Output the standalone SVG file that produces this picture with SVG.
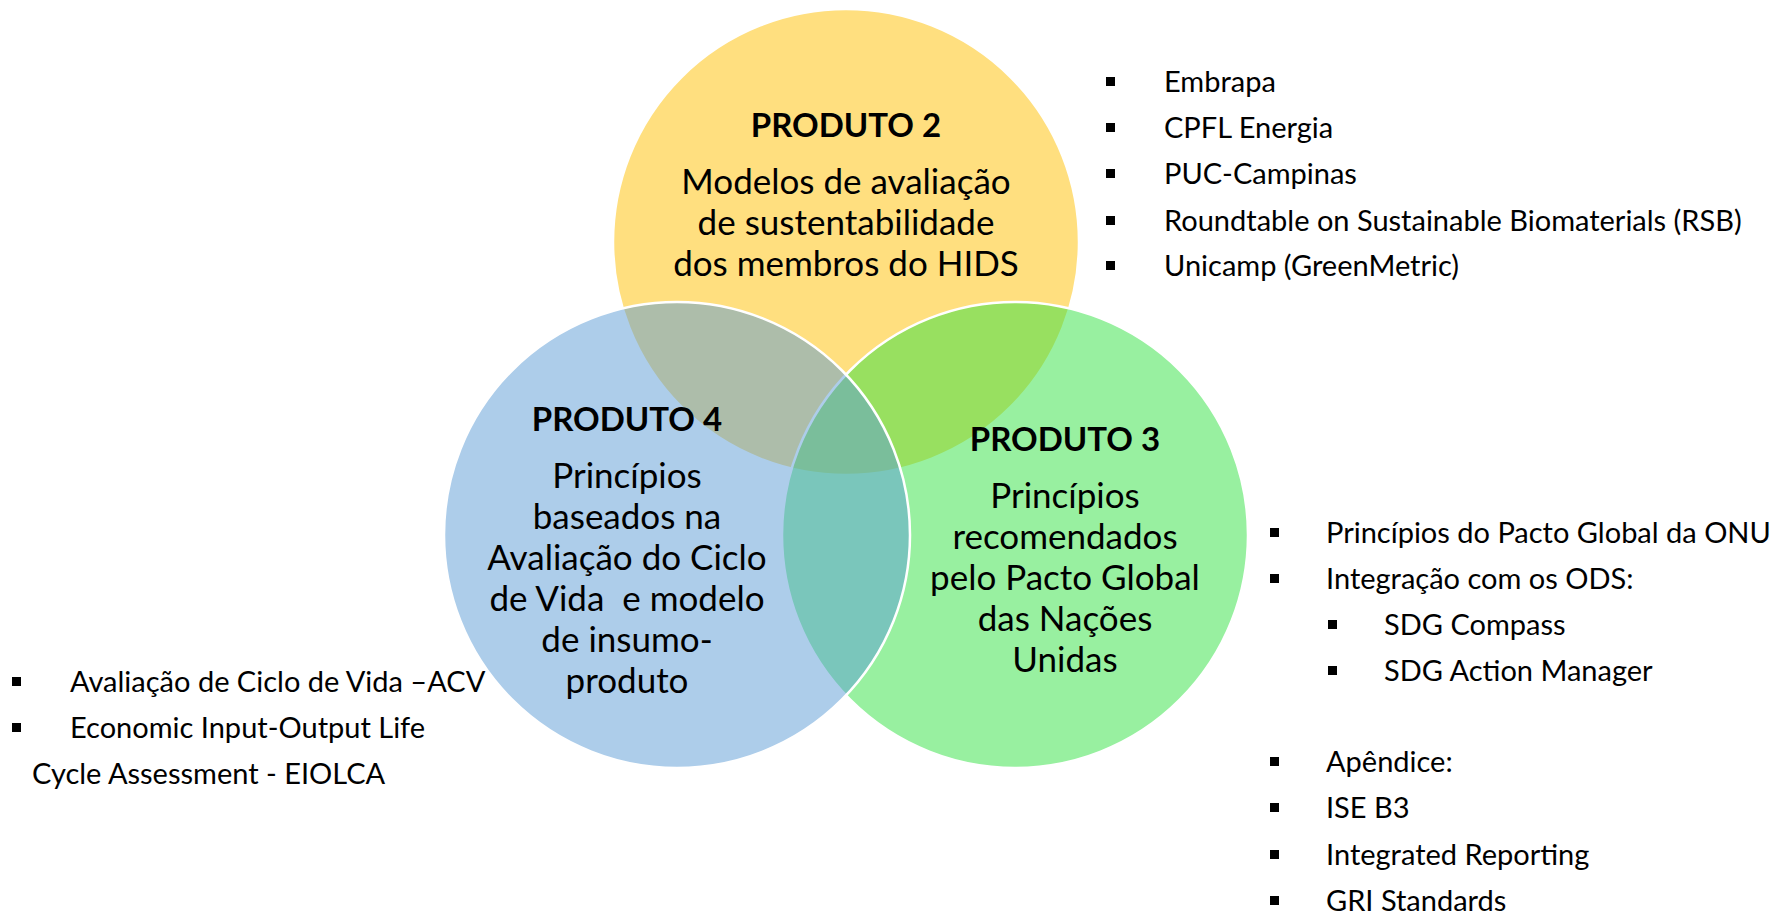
<svg xmlns="http://www.w3.org/2000/svg" width="1791" height="916" viewBox="0 0 1791 916">
<style>
.c{stroke:#fff;stroke-width:2.5;fill-opacity:.5}
.t{font-family:Lato,"Liberation Sans",sans-serif;font-size:35px;fill:#000;text-anchor:middle}
.h{font-family:Lato,"Liberation Sans",sans-serif;font-size:33px;font-weight:bold;fill:#000;text-anchor:middle}
.l{font-family:Lato,"Liberation Sans",sans-serif;font-size:29px;fill:#000}
.b{fill:#000}
</style>
<rect width="1791" height="916" fill="#fff"/>
<g id="produto2">
<circle class="c" cx="846" cy="242" r="233" fill="#FFC000"/>
<text class="h" x="846" y="137">PRODUTO 2</text>
<text class="t" x="846" y="194">Modelos de avaliação</text>
<text class="t" x="846" y="235">de sustentabilidade</text>
<text class="t" x="846" y="276">dos membros do HIDS</text>
</g>
<g id="produto3">
<circle class="c" cx="1015" cy="535" r="233" fill="#31E141"/>
<text class="h" x="1065" y="451">PRODUTO 3</text>
<text class="t" x="1065" y="508">Princípios</text>
<text class="t" x="1065" y="549">recomendados</text>
<text class="t" x="1065" y="590">pelo Pacto Global</text>
<text class="t" x="1065" y="631">das Nações</text>
<text class="t" x="1065" y="672">Unidas</text>
</g>
<g id="produto4">
<circle class="c" cx="677" cy="535" r="233" fill="#5B9BD5"/>
<text class="h" x="627" y="431">PRODUTO 4</text>
<text class="t" x="627" y="488">Princípios</text>
<text class="t" x="627" y="529">baseados na</text>
<text class="t" x="627" y="570">Avaliação do Ciclo</text>
<text class="t" x="627" y="611" xml:space="preserve">de Vida  e modelo</text>
<text class="t" x="627" y="652">de insumo-</text>
<text class="t" x="627" y="693">produto</text>
</g>
<g id="list-produto2">
<rect class="b" x="1106" y="77" width="9" height="9"/>
<text class="l" x="1164" y="92">Embrapa</text>
<rect class="b" x="1106" y="123" width="9" height="9"/>
<text class="l" x="1164" y="138">CPFL Energia</text>
<rect class="b" x="1106" y="169" width="9" height="9"/>
<text class="l" x="1164" y="184">PUC-Campinas</text>
<rect class="b" x="1106" y="216" width="9" height="9"/>
<text class="l" x="1164" y="231">Roundtable on Sustainable Biomaterials (RSB)</text>
<rect class="b" x="1106" y="261" width="9" height="9"/>
<text class="l" x="1164" y="276">Unicamp (GreenMetric)</text>
</g>
<g id="list-produto3">
<rect class="b" x="1270" y="528" width="9" height="9"/>
<text class="l" x="1326" y="543">Princípios do Pacto Global da ONU</text>
<rect class="b" x="1270" y="574" width="9" height="9"/>
<text class="l" x="1326" y="589">Integração com os ODS:</text>
<rect class="b" x="1328" y="620" width="9" height="9"/>
<text class="l" x="1384" y="635">SDG Compass</text>
<rect class="b" x="1328" y="666" width="9" height="9"/>
<text class="l" x="1384" y="681">SDG Action Manager</text>
<rect class="b" x="1270" y="757" width="9" height="9"/>
<text class="l" x="1326" y="772">Apêndice:</text>
<rect class="b" x="1270" y="803" width="9" height="9"/>
<text class="l" x="1326" y="818">ISE B3</text>
<rect class="b" x="1270" y="850" width="9" height="9"/>
<text class="l" x="1326" y="865">Integrated Reporting</text>
<rect class="b" x="1270" y="896" width="9" height="9"/>
<text class="l" x="1326" y="911">GRI Standards</text>
</g>
<g id="list-produto4">
<rect class="b" x="12" y="677" width="9" height="9"/>
<text class="l" x="70" y="692">Avaliação de Ciclo de Vida –ACV</text>
<rect class="b" x="12" y="723" width="9" height="9"/>
<text class="l" x="70" y="738">Economic Input-Output Life</text>
<text class="l" x="32" y="784">Cycle Assessment - EIOLCA</text>
</g>
<g id="connectors"/>
</svg>
